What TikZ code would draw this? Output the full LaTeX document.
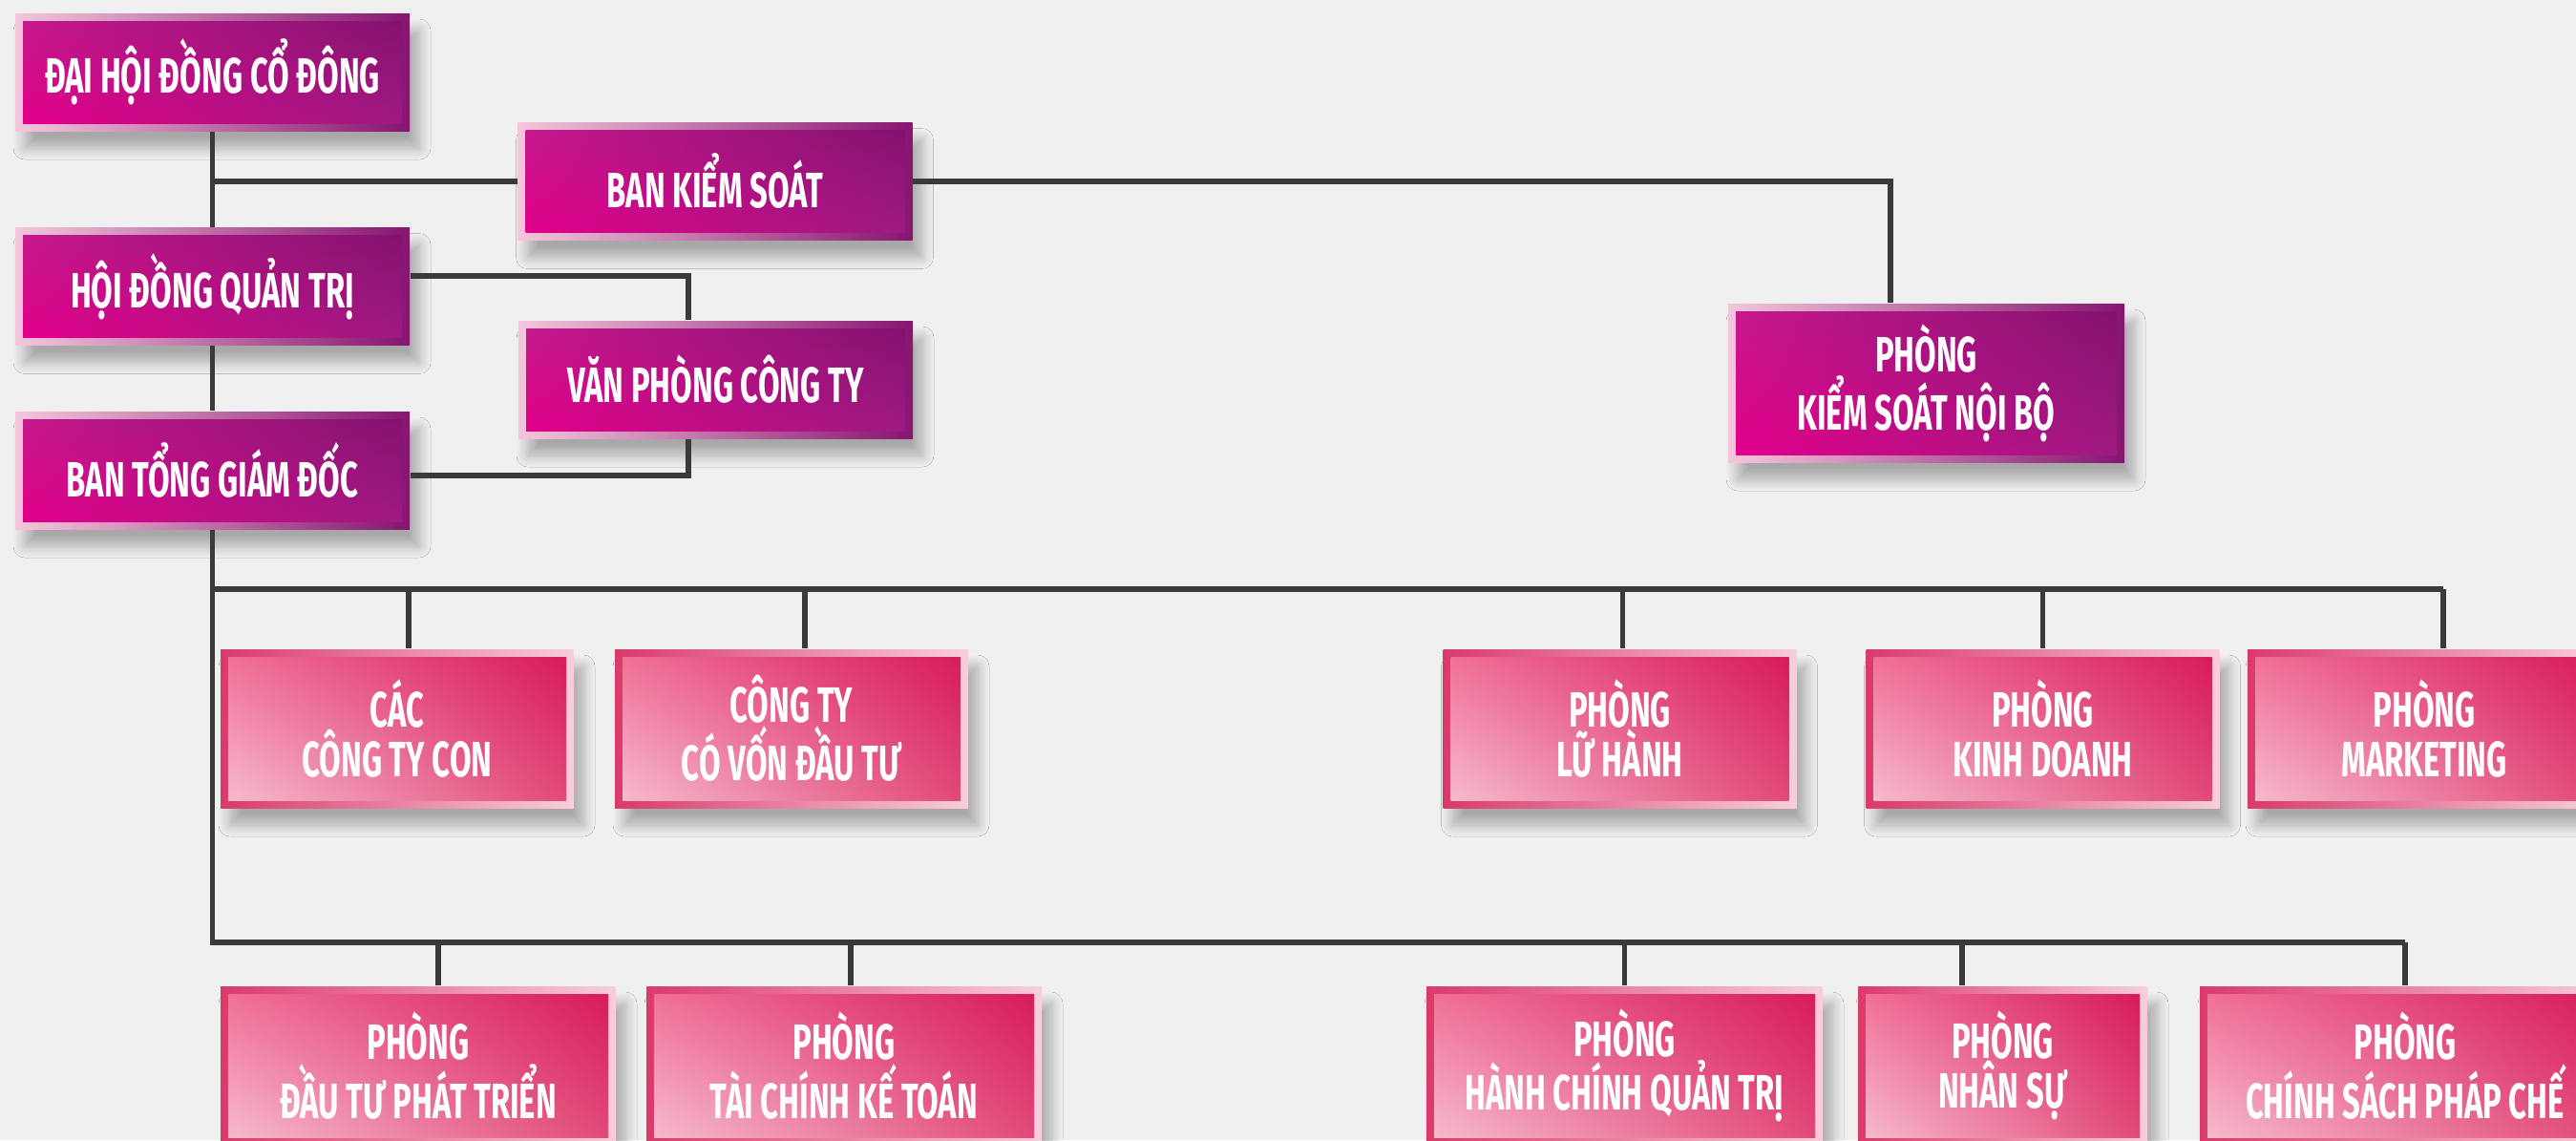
\documentclass[tikz,border=0pt]{standalone}
\usepackage{fontspec}
\newfontfamily\boxfont[FakeStretch=0.63]{Fira Sans}
\usetikzlibrary{shadows.blur,shadings}

\definecolor{bgcol}{HTML}{F0F0F0}
\definecolor{linecol}{HTML}{3A3A3A}
\definecolor{purLL}{HTML}{E2008A}
\definecolor{purUR}{HTML}{84126F}
\definecolor{purUL}{HTML}{C5188D}
\definecolor{purLR}{HTML}{9E1A82}
\definecolor{purFrameL}{HTML}{F4C6DB}
\definecolor{purFrameR}{HTML}{861570}
\definecolor{pinkLL}{HTML}{F6BACD}
\definecolor{pinkUR}{HTML}{D71C5C}
\definecolor{pinkUL}{HTML}{F07097}
\definecolor{pinkLR}{HTML}{E24A78}
\definecolor{pinkFrameL}{HTML}{DA3A6A}
\definecolor{pinkFrameR}{HTML}{F8CEDB}

\tikzset{
  unit/.style={inner sep=0pt, align=center, text=white,
    font=\boxfont\bfseries\fontsize{14.8}{14.6}\selectfont,
    blur shadow={shadow xshift=1mm, shadow yshift=-1.8mm, shadow blur steps=10, shadow blur radius=1.2mm, shadow opacity=30}},
  board/.style={unit, minimum width=4.13cm, minimum height=1.23cm,
    path picture={
      \shade[left color=purFrameL, right color=purFrameR]
        (path picture bounding box.south west) rectangle (path picture bounding box.north east);
      \shade[lower left=purLL, upper right=purUR, upper left=purUL, lower right=purLR]
        ([shift={(0.08,0.08)}]path picture bounding box.south west) rectangle ([shift={(-0.08,-0.08)}]path picture bounding box.north east);
    }},
  dept/.style={unit, minimum width=3.70cm, minimum height=1.66cm,
    path picture={
      \shade[left color=pinkFrameL, right color=pinkFrameR]
        (path picture bounding box.south west) rectangle (path picture bounding box.north east);
      \shade[lower left=pinkLL, upper right=pinkUR, upper left=pinkUL, lower right=pinkLR]
        ([shift={(0.08,0.08)}]path picture bounding box.south west) rectangle ([shift={(-0.08,-0.08)}]path picture bounding box.north east);
    }},
  link/.style={draw=linecol, line width=1.6pt}
}

\begin{document}
\begin{tikzpicture}
      \fill[bgcol] (0,0) rectangle (26.98,-11.94);
      \useasboundingbox (0,0) rectangle (26.98,-11.94);

      \node[board] (dhdcd) at ( 2.225,-0.755) {ĐẠI HỘI ĐỒNG CỔ ĐÔNG};
      \node[board] (bks)   at ( 7.490,-1.900) {BAN KIỂM SOÁT};
      \node[board] (hdqt)  at ( 2.225,-3.000) {HỘI ĐỒNG QUẢN TRỊ};
      \node[board] (vpct)  at ( 7.495,-3.975) {VĂN PHÒNG CÔNG TY};
      \node[board] (btgd)  at ( 2.225,-4.925) {BAN TỔNG GIÁM ĐỐC};
      \node[board, minimum width=4.15cm, minimum height=1.66cm] (pksnb) at (20.175,-4.010) {PHÒNG\\KIỂM SOÁT NỘI BỘ};

      \node[dept] (ctcon)     at ( 4.160,-7.63) {CÁC\\CÔNG TY CON};
      \node[dept] (ctvon)     at ( 8.290,-7.63) {CÔNG TY\\CÓ VỐN ĐẦU TƯ};
      \node[dept] (luhanh)    at (16.965,-7.63) {PHÒNG\\LỮ HÀNH};
      \node[dept] (kinhdoanh) at (21.395,-7.63) {PHÒNG\\KINH DOANH};
      \node[dept] (marketing) at (25.390,-7.63) {PHÒNG\\MARKETING};

      \node[dept, minimum width=4.14cm] (dautu)     at ( 4.380,-11.16) {PHÒNG\\ĐẦU TƯ PHÁT TRIỂN};
      \node[dept, minimum width=4.14cm] (taichinh)  at ( 8.840,-11.16) {PHÒNG\\TÀI CHÍNH KẾ TOÁN};
      \node[dept, minimum width=4.15cm] (hanhchinh) at (17.015,-11.16) {PHÒNG\\HÀNH CHÍNH QUẢN TRỊ};
      \node[dept, minimum width=3.03cm] (nhansu)    at (20.975,-11.16) {PHÒNG\\NHÂN SỰ};
      \node[dept, minimum width=4.30cm] (chinhsach) at (25.190,-11.16) {PHÒNG\\CHÍNH SÁCH PHÁP CHẾ};

      \coordinate (bus1) at (25.59,-6.17);
      \coordinate (bus2) at (25.19,-9.87);

      \draw[link] (dhdcd) -- (hdqt);
      \draw[link] (hdqt) -- (btgd);
      \draw[link] (dhdcd.south |- bks.west) -- (bks.west);
      \draw[link] (bks.east) -| ([xshift=-3.75mm]pksnb.north);
      \draw[link] ([yshift=1.1mm]hdqt.east) -| ([xshift=-2.85mm]vpct.north);
      \draw[link] ([xshift=-2.85mm]vpct.south) |- ([yshift=-0.55mm]btgd.east);
      \draw[link] (btgd.south) |- (bus2);
      \draw[link] (btgd.south |- bus1) -- (bus1);
      \foreach \n/\s in {ctcon/1.2,ctvon/1.4,luhanh/0.3,kinhdoanh/0,marketing/2}
        \draw[link] ([xshift=\s mm]\n.north) -- ([xshift=\s mm]\n.north |- bus1);
      \foreach \n/\s in {dautu/2.1,taichinh/0.7,hanhchinh/0,nhansu/-4.25,chinhsach/0}
        \draw[link] ([xshift=\s mm]\n.north) -- ([xshift=\s mm]\n.north |- bus2);
    \end{tikzpicture}
\end{document}
